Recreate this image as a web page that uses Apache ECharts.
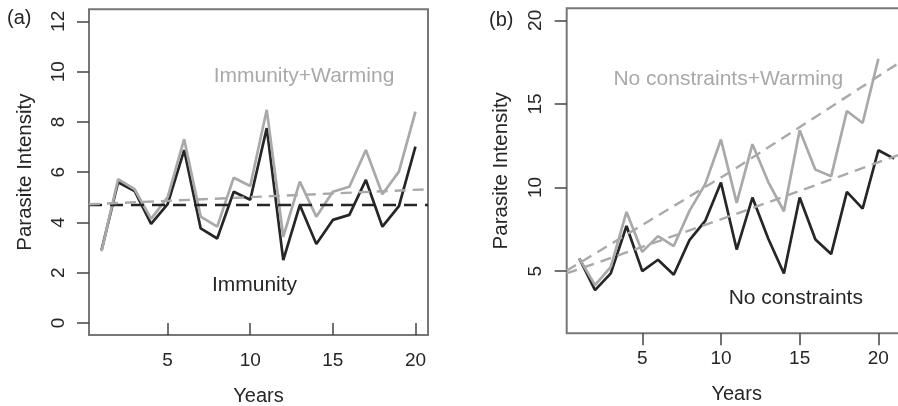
<!DOCTYPE html>
<html>
<head>
<meta charset="utf-8">
<script src="https://cdn.jsdelivr.net/npm/echarts@6/dist/echarts.min.js"></script>
<style>
  html, body { margin: 0; padding: 0; background: #fff; }
  #chart { width: 898px; height: 406px; }
</style>
</head>
<body>
<div id="chart"></div>
<script>
// Data
const yearsA = [1, 2, 3, 4, 5, 6, 7, 8, 9, 10, 11, 12, 13, 14, 15, 16, 17, 18, 19, 20];
const yearsB = [1, 2, 3, 4, 5, 6, 7, 8, 9, 10, 11, 12, 13, 14, 15, 16, 17, 18, 19, 20, 21];

const immunity = [2.9, 5.6, 5.25, 3.94, 4.73, 6.88, 3.76, 3.36, 5.22, 4.9, 7.75, 2.5, 4.69, 3.14, 4.1, 4.3, 5.69, 3.83, 4.65, 7.02];
const immunityWarming = [2.85, 5.72, 5.32, 4.14, 5.0, 7.31, 4.23, 3.83, 5.78, 5.45, 8.48, 3.43, 5.62, 4.23, 5.22, 5.42, 6.88, 5.12, 6.02, 8.41];

const noConstraints = [5.76, 3.86, 4.86, 7.7, 5.0, 5.68, 4.78, 6.85, 8.0, 10.3, 6.29, 9.4, 6.95, 4.86, 9.4, 6.89, 6.02, 9.74, 8.74, 12.23, 11.73];
const noConstraintsWarming = [5.76, 4.16, 5.26, 8.54, 6.15, 7.09, 6.5, 8.6, 10.2, 12.87, 9.08, 12.59, 10.34, 8.58, 13.42, 11.07, 10.67, 14.58, 13.86, 17.7];

// fitted (dashed) lines, as end points
const trendImmunity = [[0.24, 4.69], [20.76, 4.69]];
const trendImmunityWarming = [[0.24, 4.72], [20.76, 5.32]];
const trendNoConstraints = [[0.19, 4.86], [10.58, 8.29], [21.8, 12.12]];
const trendNoConstraintsWarming = [[0.19, 5.02], [10.58, 10.93], [21.8, 17.75]];

// tick labels
const xTicks = [5, 10, 15, 20];
const yTicksA = [0, 2, 4, 6, 8, 10, 12];
const yTicksB = [5, 10, 15, 20];

const FONT = 'Liberation Sans';
const DARK = '#262626';
const GREY = '#a9a9a9';

const pairs = (xs, ys) => ys.map((v, i) => [xs[i], v]);

function xAxisFor(grid, min, max) {
    return {
        type: 'value', gridIndex: grid, min: min, max: max,
        name: 'Years', nameLocation: 'middle', nameGap: 51,
        nameTextStyle: { fontFamily: FONT, fontSize: 20, color: DARK },
        axisLine: { show: false },
        axisTick: { show: true, length: 12, customValues: xTicks, lineStyle: { color: '#444', width: 1.5 } },
        axisLabel: { customValues: xTicks, margin: 16, fontFamily: FONT, fontSize: 19, color: DARK },
        splitLine: { show: false }
    };
}

function yAxisFor(grid, min, max, ticks, gap) {
    return {
        type: 'value', gridIndex: grid, min: min, max: max,
        name: 'Parasite Intensity', nameLocation: 'middle', nameGap: gap,
        nameTextStyle: { fontFamily: FONT, fontSize: 20.5, color: DARK },
        axisLine: { show: false },
        axisTick: { show: true, length: 12, customValues: ticks, lineStyle: { color: '#444', width: 1.5 } },
        axisLabel: { customValues: ticks, rotate: 90, margin: 21, fontFamily: FONT, fontSize: 19, color: DARK },
        splitLine: { show: false }
    };
}

function solid(xi, data, color) {
    return {
        type: 'line', xAxisIndex: xi, yAxisIndex: xi, data: data,
        showSymbol: false, silent: true,
        lineStyle: { color: color, width: 2.7 }
    };
}

function dashed(xi, data, color, dash) {
    return {
        type: 'line', xAxisIndex: xi, yAxisIndex: xi, data: data,
        showSymbol: false, silent: true,
        lineStyle: { color: color, width: 2.4, type: dash }
    };
}

const chart = echarts.init(document.getElementById('chart'), null, { renderer: 'canvas' });

chart.setOption({
    animation: false,
    backgroundColor: '#fff',
    grid: [
        { left: 89, top: 9.3, width: 339, height: 325.7, show: true, borderColor: '#777', borderWidth: 2,
          backgroundColor: 'transparent', containLabel: false, outerBoundsMode: 'none' },
        { left: 566.7, top: 8.3, width: 340, height: 325, show: true, borderColor: '#777', borderWidth: 2,
          backgroundColor: 'transparent', containLabel: false, outerBoundsMode: 'none' }
    ],
    xAxis: [xAxisFor(0, 0.24, 20.76), xAxisFor(1, 0.2, 21.8)],
    yAxis: [yAxisFor(0, -0.48, 12.48, yTicksA, 53), yAxisFor(1, 1.28, 20.72, yTicksB, 55)],
    series: [
        solid(0, pairs(yearsA, immunity), DARK),
        solid(0, pairs(yearsA, immunityWarming), GREY),
        dashed(0, trendImmunity, DARK, [13, 8]),
        dashed(0, trendImmunityWarming, GREY, [11, 7]),

        solid(1, pairs(yearsB, noConstraints), DARK),
        solid(1, pairs(yearsA, noConstraintsWarming), GREY),
        dashed(1, trendNoConstraints, GREY, [11, 7]),
        dashed(1, trendNoConstraintsWarming, GREY, [11, 7])
    ],
    graphic: [
        { type: 'text', left: 7, top: 8, style: { text: '(a)', font: '20px "Liberation Sans"', fill: DARK } },
        { type: 'text', left: 489, top: 10, style: { text: '(b)', font: '20px "Liberation Sans"', fill: DARK } },
        { type: 'text', x: 304, y: 76, style: { text: 'Immunity+Warming', font: '21px "Liberation Sans"', fill: GREY, align: 'center', verticalAlign: 'middle' } },
        { type: 'text', x: 254.5, y: 285, style: { text: 'Immunity', font: '21px "Liberation Sans"', fill: DARK, align: 'center', verticalAlign: 'middle' } },
        { type: 'text', x: 728.3, y: 79, style: { text: 'No constraints+Warming', font: '21px "Liberation Sans"', fill: GREY, align: 'center', verticalAlign: 'middle' } },
        { type: 'text', x: 795.8, y: 298, style: { text: 'No constraints', font: '21px "Liberation Sans"', fill: DARK, align: 'center', verticalAlign: 'middle' } }
    ]
});
</script>
</body>
</html>
